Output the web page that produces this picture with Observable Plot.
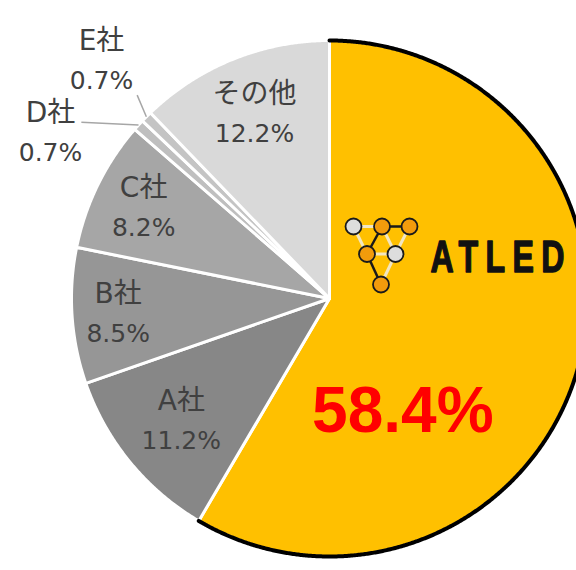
<!DOCTYPE html>
<html><head><meta charset="utf-8">
<script src="https://cdn.jsdelivr.net/npm/d3@7"></script>
<script src="https://cdn.jsdelivr.net/npm/@observablehq/plot@0.6"></script>
<style>body{margin:0;background:#fff}</style></head>
<body><div id="chart"></div>
<script>
// ---- data ----
const names = ["ATLED", "A社", "B社", "C社", "D社", "E社", "その他"];
const shares = [58.4, 11.2, 8.5, 8.2, 0.7, 0.7, 12.2];
const pctLabels = ["58.4%", "11.2%", "8.5%", "8.2%", "0.7%", "0.7%", "12.2%"];
const sliceColors = ["#FFC000", "#878787", "#969696", "#A6A6A6", "#BFBFBF", "#C4C4C4", "#D9D9D9"];

// ---- layout ----
const W = 576, H = 570, CX = 329, CY = 298, R = 258;
const ux = px => (px - CX) / R;
const uy = py => (CY - py) / R;
// label radius (fraction of pie radius) and optional fixed angle (deg clockwise from top)
const labelRadius = [0.522, 0.743, 0.821, 0.803, 1.259, 1.279, 0.777];
const labelAngle = [147, null, null, null, 300.8, 316.3, null];
// leader line starts for outside labels: [index, angle deg, radius]
const leaderStarts = [[4, 305.4, 1.18], [5, 316.6, 1.085]];

const pie = d3.pie().sort(null).value(d => d)(shares);
const polar = (a, r) => ({u: r * Math.sin(a), v: r * Math.cos(a)});
const slices = pie.map((p, i) => {
  const pts = [{u: 0, v: 0}];
  const n = Math.max(2, Math.ceil((p.endAngle - p.startAngle) / 0.005));
  for (let k = 0; k <= n; k++) pts.push(polar(p.startAngle + (p.endAngle - p.startAngle) * k / n, 1));
  return {name: names[i], color: sliceColors[i], pts, mid: (p.startAngle + p.endAngle) / 2};
});
const atledArc = slices[0].pts.slice(1);

const labels = slices.map((s, i) => {
  const a = labelAngle[i] == null ? s.mid : labelAngle[i] * Math.PI / 180;
  const p = polar(a, labelRadius[i]);
  return {...p, name: names[i], pct: pctLabels[i], i};
});
const leaders = leaderStarts.map(([i, a, r]) => {
  const s = polar(a * Math.PI / 180, r), e = polar(slices[i].mid, 1.0);
  return {u1: s.u, v1: s.v, u2: e.u, v2: e.v};
});

// ATLED logo (decoration)
const logoNodes = [
  {px: 353, py: 226, c: "#DDDDDD"}, {px: 381.5, py: 226, c: "#F29B0C"}, {px: 409, py: 226, c: "#F29B0C"},
  {px: 366.5, py: 253.5, c: "#F29B0C"}, {px: 395, py: 253.5, c: "#DDDDDD"}, {px: 380.5, py: 284, c: "#F29B0C"}
].map(d => ({u: ux(d.px), v: uy(d.py), c: d.c}));
const logoEdges = [[0,1,"l"],[0,3,"l"],[1,4,"l"],[2,4,"l"],[3,4,"l"],[4,5,"l"],[1,2,"b"],[1,3,"b"],[3,5,"b"]]
  .map(([a, b, k]) => ({u1: logoNodes[a].u, v1: logoNodes[a].v, u2: logoNodes[b].u, v2: logoNodes[b].v, k}));
const brand = [{u: ux(430), v: uy(257.5), t: "ATLED"}];

const labelFont = "'DejaVu Sans','Noto Sans CJK JP',sans-serif";
const small = labels.filter(d => d.i > 0);

const chart = Plot.plot({
  width: W, height: H, margin: 0,
  x: {domain: [ux(0), ux(W)], axis: null},
  y: {domain: [uy(H), uy(0)], axis: null},
  style: {background: "white", overflow: "hidden"},
  marks: [
    ...slices.map(s => Plot.line(s.pts, {x: "u", y: "v", curve: "linear-closed", fill: s.color, stroke: "white", strokeWidth: 3, strokeLinejoin: "round"})),
    Plot.line(atledArc, {x: "u", y: "v", stroke: "#000", strokeWidth: 4}),
    Plot.link(leaders, {x1: "u1", y1: "v1", x2: "u2", y2: "v2", stroke: "#A6A6A6", strokeWidth: 1.5}),
    Plot.text(small, {x: "u", y: "v", text: "name", dy: -19, fontSize: 28, fill: "#404040", fontFamily: labelFont}),
    Plot.text(small, {x: "u", y: "v", text: "pct", dy: 21, fontSize: 25, fill: "#404040", fontFamily: labelFont}),
    Plot.text(labels.filter(d => d.i === 0), {x: "u", y: "v", text: "pct", fontSize: 64, fontWeight: "bold", fill: "#FF0000", fontFamily: "'Liberation Sans',Arial,sans-serif"}),
    Plot.link(logoEdges.filter(d => d.k === "l"), {x1: "u1", y1: "v1", x2: "u2", y2: "v2", stroke: "#F3E6C0", strokeWidth: 3}),
    Plot.link(logoEdges.filter(d => d.k === "b"), {x1: "u1", y1: "v1", x2: "u2", y2: "v2", stroke: "#1a1a1a", strokeWidth: 2.5}),
    Plot.dot(logoNodes, {x: "u", y: "v", r: 8, fill: "c", stroke: "#1a1a1a", strokeWidth: 1.8}),
    Plot.text(brand, {x: "u", y: "v", text: "t", textAnchor: "start", fontSize: 44, fontWeight: "bold", fill: "#111", stroke: "#111", strokeWidth: 1.4, fontFamily: "'Liberation Sans',Arial,sans-serif"})
  ],
  color: {type: "identity"}
});
d3.select(chart).selectAll("text").filter(function() { return this.textContent === "ATLED"; })
  .attr("letter-spacing", "10px")
  .attr("transform", function() { return (this.getAttribute("transform") || "") + " scale(0.73,1)"; });
document.getElementById("chart").append(chart);
</script>
</body></html>
